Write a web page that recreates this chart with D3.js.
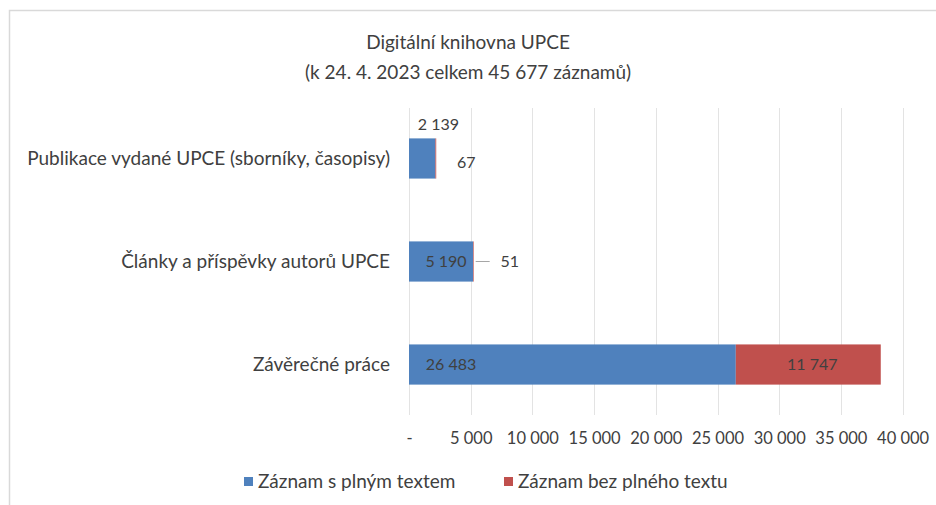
<!DOCTYPE html>
<html>
<head>
<meta charset="utf-8">
<script src="https://cdn.jsdelivr.net/npm/d3@7"></script>
<style>
  body { margin: 0; background: #fff; }
  text { font-family: Lato, "Open Sans", sans-serif; fill: #404040; }
</style>
</head>
<body>
<div id="vis-holder"></div>
<script>
// Data
const categories = ["Publikace vydané UPCE (sborníky, časopisy)", "Články a příspěvky autorů UPCE", "Závěrečné práce"];
const fullText = [2139, 5190, 26483];
const noFullText = [67, 51, 11747];
const seriesNames = ["Záznam s plným textem", "Záznam bez plného textu"];
const xTicks = [0, 5000, 10000, 15000, 20000, 25000, 30000, 35000, 40000];

const width = 936, height = 505;
const margin = { top: 108, right: 34, bottom: 90, left: 409 };
const colors = ["#4F81BD", "#C0504D"];

const svg = d3.select("#vis-holder")
  .append("svg")
  .attr("width", width)
  .attr("height", height);

// chart frame (right and bottom edges fall outside the picture)
svg.append("rect")
  .attr("x", 9.5).attr("y", 10.5)
  .attr("width", 940).attr("height", 510)
  .attr("fill", "#fff")
  .attr("stroke", "#d9d9d9")
  .attr("stroke-width", 1.5);

// Title
svg.append("text")
  .attr("x", 468).attr("y", 49)
  .attr("text-anchor", "middle")
  .attr("font-size", "19px")
  .text("Digitální knihovna UPCE");
svg.append("text")
  .attr("x", 468).attr("y", 79)
  .attr("text-anchor", "middle")
  .attr("font-size", "19px")
  .text("(k 24. 4. 2023 celkem 45 677 záznamů)");

const x = d3.scaleLinear()
  .domain([0, 40000])
  .range([margin.left, margin.left + 8 * 61.7]);

const y = d3.scaleBand()
  .domain(categories)
  .range([margin.top, height - margin.bottom])
  .paddingInner(0.61)
  .paddingOuter(0.295);

const fmt = (v) => v === 0 ? "-" : d3.format(",")(v).replace(/,/g, " ");

// gridlines
svg.append("g")
  .selectAll("line")
  .data(xTicks)
  .join("line")
  .attr("x1", (d) => Math.round(x(d)) + 0.5)
  .attr("x2", (d) => Math.round(x(d)) + 0.5)
  .attr("y1", margin.top)
  .attr("y2", height - margin.bottom)
  .attr("stroke", "#e3e3e3");

// x axis (labels only)
const xAxis = svg.append("g")
  .attr("transform", `translate(0,${height - margin.bottom})`)
  .call(d3.axisBottom(x).tickValues(xTicks).tickFormat(fmt).tickSize(0).tickPadding(17));
xAxis.select(".domain").remove();
xAxis.selectAll("text")
  .attr("font-size", "16.5px")
  .attr("fill", "#595959")
  .style("font-family", "Lato, sans-serif");

// y axis labels
const yAxis = svg.append("g")
  .attr("transform", `translate(${margin.left},0)`)
  .call(d3.axisLeft(y).tickSize(0).tickPadding(19));
yAxis.select(".domain").remove();
yAxis.selectAll("text")
  .attr("font-size", "19px")
  .attr("fill", "#404040")
  .style("font-family", "Lato, sans-serif");

// bars
const rows = categories.map((c, i) => ({ cat: c, a: fullText[i], b: noFullText[i] }));

svg.append("g").selectAll("rect")
  .data(rows)
  .join("rect")
  .attr("x", x(0))
  .attr("y", (d) => y(d.cat))
  .attr("width", (d) => x(d.a) - x(0))
  .attr("height", y.bandwidth())
  .attr("fill", colors[0]);

svg.append("g").selectAll("rect")
  .data(rows)
  .join("rect")
  .attr("x", (d) => x(d.a))
  .attr("y", (d) => y(d.cat))
  .attr("width", (d) => x(d.a + d.b) - x(d.a))
  .attr("height", y.bandwidth())
  .attr("fill", colors[1]);

// data labels
const cy = (i) => y(categories[i]) + y.bandwidth() / 2;
const lbl = (tx, ty, v) => svg.append("text")
  .attr("x", tx).attr("y", ty)
  .attr("dy", "0.35em")
  .attr("text-anchor", "middle")
  .attr("font-size", "16px")
  .attr("fill", "#262626")
  .text(fmt(v));

// Publikace: labels moved outside the bar
lbl(x(fullText[0]) + 3, cy(0) - 34, fullText[0]);
lbl(x(fullText[0] + noFullText[0]) + 30, cy(0) + 4, noFullText[0]);
// Články
lbl((x(0) + x(fullText[1])) / 2 + 5, cy(1), fullText[1]);
svg.append("line")
  .attr("x1", x(fullText[1] + noFullText[1]) + 2)
  .attr("x2", x(fullText[1] + noFullText[1]) + 16)
  .attr("y1", cy(1)).attr("y2", cy(1))
  .attr("stroke", "#a6a6a6");
lbl(x(fullText[1] + noFullText[1]) + 36, cy(1), noFullText[1]);
// Závěrečné práce
lbl(x(0) + 42, cy(2), fullText[2]);
lbl((x(fullText[2]) + x(fullText[2] + noFullText[2])) / 2 + 4, cy(2), noFullText[2]);

// legend
const legend = svg.append("g");
const legX = [244, 504];
seriesNames.forEach((name, i) => {
  legend.append("rect")
    .attr("x", legX[i]).attr("y", 477)
    .attr("width", 9).attr("height", 9)
    .attr("fill", colors[i]);
  legend.append("text")
    .attr("x", legX[i] + 14).attr("y", 481)
    .attr("dy", "0.35em")
    .attr("font-size", "19px")
    .attr("fill", "#404040")
    .text(name);
});
</script>
</body>
</html>
